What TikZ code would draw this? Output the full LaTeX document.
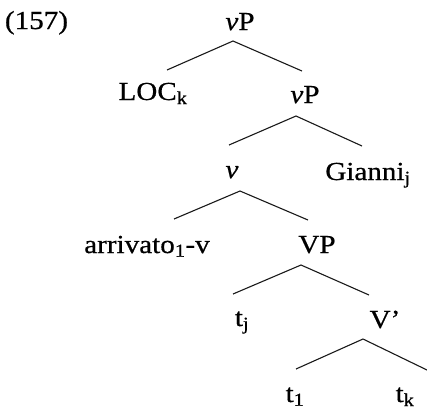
\documentclass[tikz,border=0pt]{standalone}
\usepackage{fontspec}
\setmainfont{Liberation Serif}[FakeStretch=1.12,FakeBold=0.6]
\tikzset{
  lbl/.style={anchor=base, inner sep=0pt, font=\fontsize{26}{30}\selectfont},
  branch/.style={line width=1.1pt, draw=black!90}
}
\newcommand{\mysub}[1]{\textsubscript{#1}}
\begin{document}
\begin{tikzpicture}[x=1pt,y=-1pt]
\useasboundingbox (0,0) rectangle (427,408);
% labels
\node[lbl] (ex) at (36.5,29) {(157)};
\node[lbl] (vP1) at (240,30) {\textit{v}P};
\node[lbl] (LOC) at (153,100) {LOC\mysub{k}};
\node[lbl] (vP2) at (305,103) {\textit{v}P};
\node[lbl] (v) at (232,178) {\textit{v}};
\node[lbl] (G) at (368,180) {Gianni\mysub{j}};
\node[lbl] (arr) at (147,253) {arrivato\mysub{1}-v};
\node[lbl] (VP) at (317,253) {VP};
\node[lbl] (tj) at (242,326) {t\mysub{j}};
\node[lbl] (Vb) at (385,328) {V'};
\node[lbl] (t1) at (295,402) {t\mysub{1}};
\node[lbl] (tk) at (405,402) {t\mysub{k}};
% branch end points
\coordinate (vP1b) at (233,41);
\coordinate (LOCt) at (167,70);
\coordinate (vP2t) at (302,71);
\coordinate (vP2b) at (296,116);
\coordinate (vt) at (229,145);
\coordinate (Gt) at (362,146);
\coordinate (vb) at (240,191);
\coordinate (arrt) at (174,219);
\coordinate (VPt) at (308,220);
\coordinate (VPb) at (301,265);
\coordinate (tjt) at (233,294);
\coordinate (Vbt) at (369,295);
\coordinate (Vbb) at (363,339);
\coordinate (t1t) at (296,369);
\coordinate (tkt) at (427,370);
% branches
\draw[branch] (LOCt) -- (vP1b) -- (vP2t);
\draw[branch] (vt) -- (vP2b) -- (Gt);
\draw[branch] (arrt) -- (vb) -- (VPt);
\draw[branch] (tjt) -- (VPb) -- (Vbt);
\draw[branch] (t1t) -- (Vbb) -- (tkt);
\end{tikzpicture}
\end{document}
